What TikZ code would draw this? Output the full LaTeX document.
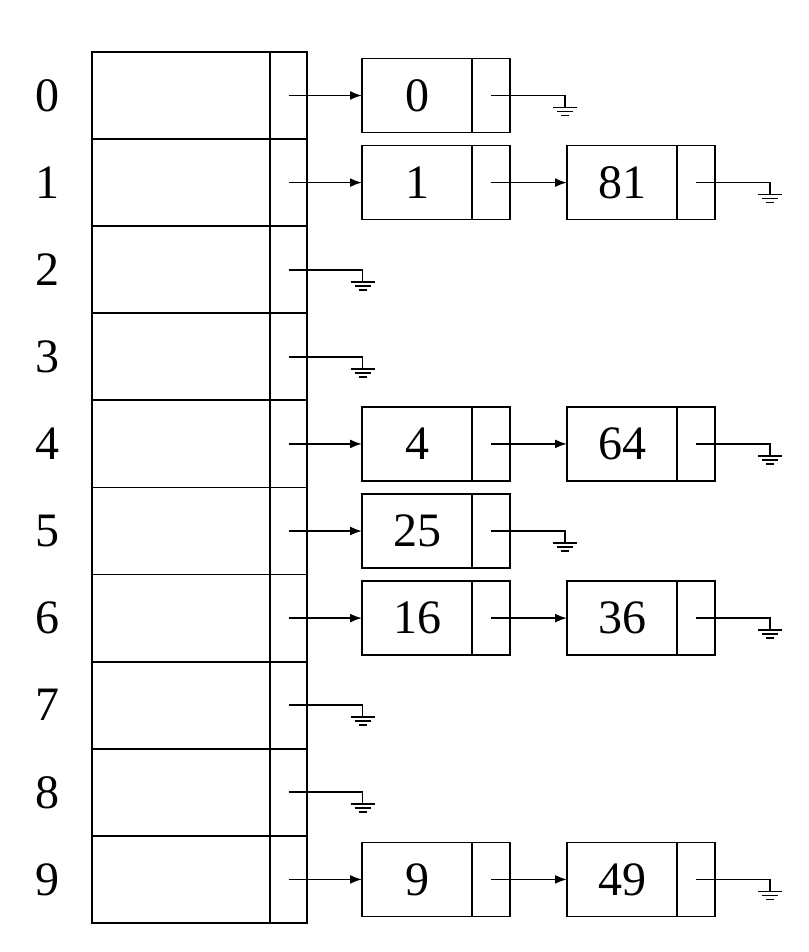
\documentclass[tikz,border=0pt]{standalone}
\usepackage{fontspec}
\setmainfont{Liberation Serif}
\usetikzlibrary{positioning,arrows.meta}
\begin{document}
\begin{tikzpicture}[x=0.5pt,y=-0.5pt,line width=0.9pt,
    every node/.style={font=\fontsize{24}{28}\selectfont,inner sep=0pt,outer sep=0pt},
    slot/.style={draw,minimum width=89pt,minimum height=43.55pt},
    slotptr/.style={draw,minimum width=18.5pt,minimum height=43.55pt},
    cell/.style={draw,minimum width=55pt,minimum height=37pt},
    cellptr/.style={draw,minimum width=19pt,minimum height=37pt},
    link/.style={-{Latex[length=6pt,width=4.5pt]}},
    ground/.pic={\draw (-12,0) -- (12,0) (-8,4) -- (8,4) (-4,8) -- (4,8);}]
  \useasboundingbox (0,0) rectangle (808,952);
  % hash table
  \foreach \i in {0,...,9} {
    \node[slot] (s\i) at (181,{95.5+87.1*\i}) {};
    \node[slotptr,right=0pt of s\i] (sp\i) {};
    \node (l\i) at (47,{95.5+87.1*\i}) {\i};
  }
  % first cells of the chains
  \foreach \i/\v in {0/0,1/1,4/4,5/25,6/16,9/9} {
    \node[cell] (a\i) at (417,{95.5+87.1*\i}) {\v};
    \node[cellptr,right=0pt of a\i] (ap\i) {};
    \draw[link] (sp\i.center) -- (a\i);
  }
  % second cells
  \foreach \i/\v in {1/81,4/64,6/36,9/49} {
    \node[cell,right=28.5pt of ap\i] (b\i) {\v};
    \node[cellptr,right=0pt of b\i] (bp\i) {};
    \draw[link] (ap\i.center) -- (b\i);
  }
  % null pointers
  \foreach \n in {sp2,sp3,sp7,sp8,ap0,ap5,bp1,bp4,bp6,bp9}
    \draw (\n.center) -- ++(74,0) coordinate (\n-end) -- ++(0,12) pic {ground};
\end{tikzpicture}
\end{document}
